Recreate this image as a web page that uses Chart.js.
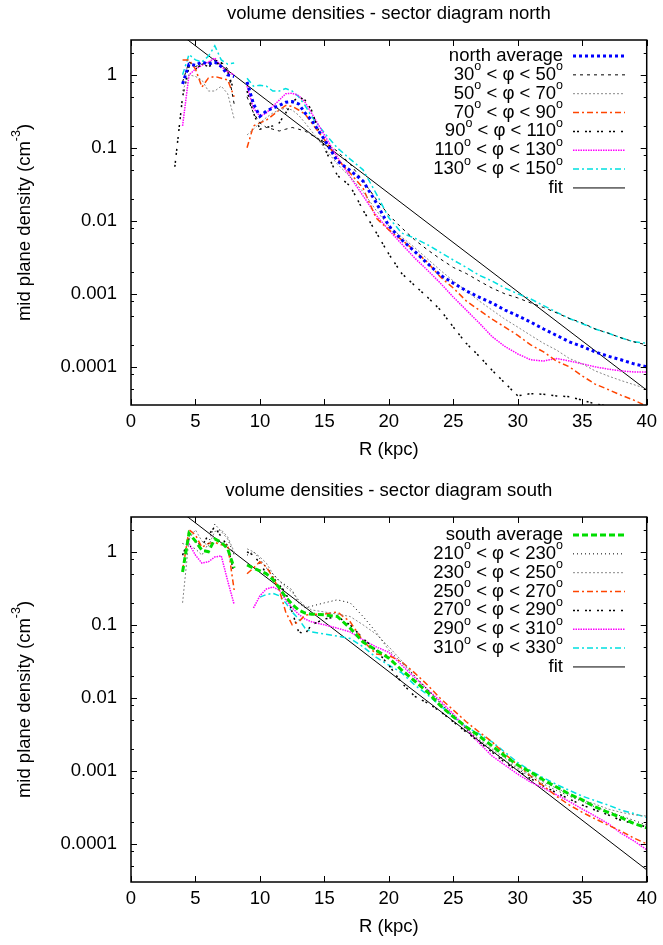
<!DOCTYPE html>
<html>
<head>
<meta charset="utf-8">
<title>volume densities - sector diagrams</title>
<script src="https://cdn.jsdelivr.net/npm/chart.js@4.4.1/dist/chart.umd.min.js"></script>
<style>
  body { margin: 0; background: #fff; }
  canvas { display: block; }
</style>
</head>
<body>
<canvas id="north" width="663" height="477"></canvas>
<canvas id="south" width="663" height="468"></canvas>
<script>
// galactocentric radius (kpc), shared by all sector profiles; 8.5 is the gap
var radius = [3.4, 4, 4.5, 5, 5.5, 6, 6.5, 7, 7.5, 8,
  8.5,
  9, 9.5, 10, 10.5, 11, 11.5, 12, 12.5, 13, 13.5, 14,
  15, 16, 17, 18, 19, 20, 21, 22, 23, 24, 25, 26, 27, 28, 29, 30, 31, 32, 33, 34, 35, 36, 37, 38, 39, 40];

// north sectors (cm^-3)
var northAverage = [null, 0.75, 1.4, 1.35, 1.5, 1.4, 1.5, 1.3, 1.0, 0.95,
  null,
  0.8, 0.4, 0.27, 0.32, 0.35, 0.38, 0.42, 0.43, 0.4, 0.3, 0.24,
  0.13, 0.066, 0.049, 0.035, 0.018, 0.0085, 0.0055, 0.0038, 0.0026, 0.0018, 0.0014, 0.0011, 0.0009, 0.00075, 0.0006, 0.0005, 0.00041, 0.00033, 0.00027, 0.00022, 0.00019, 0.00016, 0.00014, 0.000125, 0.00011, 0.0001];
var north30_50 = [null, 0.8, 1.5, 1.3, 1.4, 1.45, 1.6, 1.5, 1.2, 0.4,
  null,
  0.5, 0.3, 0.22, 0.19, 0.18, 0.17, 0.18, 0.19, 0.18, 0.17, 0.15,
  0.12, 0.09, 0.06, 0.035, 0.02, 0.012, 0.008, 0.0055, 0.004, 0.003, 0.0023, 0.0019, 0.0015, 0.0012, 0.001, 0.00088, 0.00075, 0.00065, 0.00055, 0.00046, 0.0004, 0.00033, 0.00029, 0.00025, 0.00022, 0.0002];
var north50_70 = [null, 0.6, 1.0, 0.95, 0.85, 0.6, 0.6, 0.7, 0.55, 0.25,
  null,
  0.15, 0.18, 0.22, 0.26, 0.3, 0.33, 0.35, 0.33, 0.28, 0.22, 0.17,
  0.1, 0.06, 0.04, 0.025, 0.014, 0.0085, 0.006, 0.0043, 0.003, 0.0021, 0.0015, 0.0011, 0.0008, 0.0006, 0.00045, 0.00035, 0.00027, 0.00021, 0.00017, 0.00013, 0.00011, 0.000088, 0.000075, 0.000065, 0.000057, 0.00005];
var north70_90 = [null, 1.6, 1.6, 1.2, 0.68, 0.9, 0.95, 0.9, 0.85, 0.5,
  null,
  0.1, 0.2, 0.22, 0.24, 0.28, 0.33, 0.38, 0.37, 0.33, 0.29, 0.22,
  0.13, 0.07, 0.045, 0.028, 0.011, 0.0075, 0.0055, 0.0039, 0.0027, 0.0017, 0.0012, 0.0008, 0.0006, 0.00045, 0.00035, 0.00027, 0.0002, 0.00016, 0.00012, 0.0001, 0.000075, 0.000058, 0.000049, 0.000041, 0.000035, 0.000029];
var north90_110 = [0.055, 0.5, 1.3, 1.2, 1.4, 1.3, 1.4, 1.45, 1.1, 0.6,
  null,
  0.6, 0.3, 0.18, 0.19, 0.2, 0.22, 0.3, 0.42, 0.5, 0.45, 0.33,
  0.1, 0.042, 0.03, 0.014, 0.007, 0.0035, 0.0019, 0.0013, 0.0009, 0.0006, 0.00035, 0.00021, 0.00014, 0.00009, 0.00006, 0.00004, 0.000043, 0.000042, 0.00004, 0.000039, 0.000035, 0.000031, 0.000029, 0.000026, 0.000024, 0.000022];
var north110_130 = [null, 0.2, 1.0, 1.2, 1.35, 1.5, 1.7, 1.3, 1.1, 1.0,
  null,
  0.7, 0.35, 0.27, 0.3, 0.37, 0.45, 0.55, 0.56, 0.52, 0.42, 0.3,
  0.15, 0.075, 0.04, 0.022, 0.012, 0.0075, 0.0048, 0.0031, 0.0021, 0.0014, 0.0009, 0.0006, 0.0004, 0.00026, 0.00019, 0.00015, 0.000125, 0.00012, 0.00013, 0.00012, 0.00011, 0.0001, 0.000093, 0.000088, 0.000085, 0.000085];
var north130_150 = [null, 1.0, 1.9, 1.6, 1.5, 1.8, 2.5, 1.6, 1.4, 1.45,
  null,
  0.9, 0.7, 0.72, 0.7, 0.6, 0.6, 0.65, 0.6, 0.5, 0.38, 0.27,
  0.16, 0.1, 0.07, 0.05, 0.024, 0.011, 0.0068, 0.0058, 0.0047, 0.0037, 0.0029, 0.0023, 0.0018, 0.0015, 0.0012, 0.001, 0.00085, 0.00069, 0.00056, 0.00046, 0.00039, 0.00033, 0.00029, 0.00025, 0.00022, 0.00021];

// south sectors (cm^-3)
var southAverage = [null, 0.53, 1.8, 1.4, 1.05, 1.0, 1.5, 1.35, 1.1, 0.6,
  null,
  0.66, 0.6, 0.55, 0.5, 0.42, 0.32, 0.24, 0.19, 0.16, 0.145, 0.14,
  0.137, 0.13, 0.09, 0.058, 0.045, 0.035, 0.024, 0.017, 0.012, 0.0078, 0.0055, 0.004, 0.003, 0.0022, 0.0016, 0.0012, 0.00096, 0.00075, 0.0006, 0.00048, 0.0004, 0.00032, 0.00027, 0.00023, 0.00019, 0.000166];
var south210_230 = [null, 1.3, 1.2, 1.1, 0.9, 1.3, 2.4, 1.9, 1.5, 0.9,
  null,
  0.9, 1.0, 0.8, 0.6, 0.5, 0.4, 0.35, 0.3, 0.2, 0.17, 0.18,
  0.2, 0.22, 0.2, 0.13, 0.08, 0.045, 0.03, 0.02, 0.013, 0.0085, 0.0055, 0.0037, 0.0026, 0.0019, 0.0014, 0.00105, 0.00083, 0.00066, 0.00054, 0.00045, 0.00038, 0.00032, 0.00028, 0.00024, 0.00021, 0.00018];
var south230_250 = [null, 0.2, 1.5, 2.0, 1.4, 1.2, 1.9, 2.0, 1.6, 1.0,
  null,
  1.1, 1.0, 0.85, 0.7, 0.5, 0.4, 0.33, 0.28, 0.22, 0.18, 0.16,
  0.15, 0.14, 0.13, 0.1, 0.075, 0.05, 0.032, 0.02, 0.013, 0.0085, 0.0056, 0.0038, 0.0027, 0.002, 0.0015, 0.0011, 0.00088, 0.0007, 0.00058, 0.00048, 0.0004, 0.00035, 0.0003, 0.00027, 0.00025, 0.00024];
var south250_270 = [null, 0.55, 2.0, 1.7, 1.15, 1.3, 1.35, 1.25, 1.25, 0.3,
  null,
  0.5, 0.6, 0.73, 0.62, 0.45, 0.3, 0.15, 0.1, 0.11, 0.135, 0.14,
  0.14, 0.15, 0.11, 0.06, 0.04, 0.038, 0.031, 0.022, 0.015, 0.0098, 0.0068, 0.0047, 0.0034, 0.0025, 0.0017, 0.0012, 0.00085, 0.00062, 0.00045, 0.00034, 0.00027, 0.00022, 0.00018, 0.00015, 0.00012, 0.0001];
var south270_290 = [null, 0.9, 1.5, 1.4, 1.2, 1.7, 2.2, 1.6, 1.2, 0.5,
  null,
  1.0, 0.9, 0.7, 0.5, 0.45, 0.35, 0.28, 0.15, 0.08, 0.075, 0.1,
  0.12, 0.13, 0.1, 0.065, 0.045, 0.028, 0.016, 0.0105, 0.0085, 0.0065, 0.0047, 0.0034, 0.0025, 0.0018, 0.0013, 0.001, 0.00078, 0.00062, 0.0005, 0.00041, 0.00034, 0.00029, 0.00025, 0.00021, 0.00019, 0.00017];
var south290_310 = [null, null, 1.3, 0.9, 0.7, 0.73, 0.85, 0.88, 0.4, 0.19,
  null,
  null, 0.17, 0.25, 0.31, 0.33, 0.3, 0.22, 0.17, 0.14, 0.12, 0.11,
  0.1, 0.09, 0.08, 0.062, 0.05, 0.042, 0.028, 0.019, 0.013, 0.009, 0.006, 0.0038, 0.0024, 0.0016, 0.0012, 0.0009, 0.0007, 0.00058, 0.00047, 0.00038, 0.0003, 0.00024, 0.00019, 0.00014, 0.00011, 0.000083];
var south310_330 = [null, null, null, null, null, null, null, null, null, null,
  null,
  null, null, 0.24, 0.26, 0.27, 0.25, 0.2, 0.15, 0.12, 0.09, 0.08,
  0.075, 0.07, 0.065, 0.05, 0.036, 0.028, 0.022, 0.015, 0.011, 0.0078, 0.0055, 0.004, 0.0032, 0.0025, 0.0018, 0.0013, 0.001, 0.0008, 0.00065, 0.00054, 0.00045, 0.00039, 0.00034, 0.00029, 0.00026, 0.00023];

// exponential fits, end points
var fitRadius = [0, 40];
var northFit = [11.8, 0.000048];
var southFit = [11.9, 0.000044];

var xTickValues = [0, 5, 10, 15, 20, 25, 30, 35, 40];
var yTickValues = [0.00005, 0.00008, 0.0001, 0.0002, 0.0005, 0.0008, 0.001, 0.002, 0.005, 0.008,
  0.01, 0.02, 0.05, 0.08, 0.1, 0.2, 0.5, 0.8, 1, 2];
var yTickLabels = ['', '', '0.0001', '', '', '', '0.001', '', '', '',
  '0.01', '', '', '', '0.1', '', '', '', '1', ''];

Chart.defaults.font.family = '"Liberation Sans", Arial, Helvetica, sans-serif';
Chart.defaults.font.size = 18.5;
Chart.defaults.color = '#000';

var mainFont = '18.5px "Liberation Sans", Arial, sans-serif';
var supFont = '12.5px "Liberation Sans", Arial, sans-serif';

// text with ^{...} superscripts, like gnuplot enhanced text
function drawRich(ctx, str, x, y, align) {
  var parts = str.split(/\^\{([^}]*)\}/).map(function (t, i) { return { t: t, sup: i % 2 === 1 }; });
  var w = 0;
  parts.forEach(function (p) {
    ctx.font = p.sup ? supFont : mainFont;
    p.w = ctx.measureText(p.t).width;
    w += p.w;
  });
  var cx = align === 'right' ? x - w : (align === 'center' ? x - w / 2 : x);
  ctx.textAlign = 'left';
  ctx.textBaseline = 'middle';
  parts.forEach(function (p) {
    ctx.font = p.sup ? supFont : mainFont;
    ctx.fillText(p.t, cx, p.sup ? y - 8 : y);
    cx += p.w;
  });
}

const gnuplotLook = {
  id: 'gnuplotLook',
  afterDatasetsDraw: (chart, args, opts) => {
    const {ctx, chartArea: a} = chart;
    const x = chart.scales.x, y = chart.scales.y;
    ctx.save();
    ctx.strokeStyle = '#000';
    ctx.fillStyle = '#000';
    ctx.setLineDash([]);
    ctx.lineWidth = 1;
    ctx.beginPath();
    xTickValues.forEach(function (v) {
      var px = Math.round(x.getPixelForValue(v)) + 0.5;
      ctx.moveTo(px, a.bottom); ctx.lineTo(px, a.bottom - 6);
      ctx.moveTo(px, a.top); ctx.lineTo(px, a.top + 6);
    });
    yTickValues.forEach(function (v, i) {
      var len = yTickLabels[i] ? 6 : 3;
      var py = Math.round(y.getPixelForValue(v)) + 0.5;
      ctx.moveTo(a.left, py); ctx.lineTo(a.left + len, py);
      ctx.moveTo(a.right, py); ctx.lineTo(a.right - len, py);
    });
    ctx.stroke();
    ctx.lineWidth = 1.5;
    ctx.strokeRect(a.left, a.top, a.right - a.left, a.bottom - a.top);

    // key, top right
    chart.data.datasets.forEach(function (ds, i) {
      var ry = opts.keyTop + i * 18.85;
      drawRich(ctx, ds.label, 563, ry, 'right');
      ctx.save();
      ctx.strokeStyle = ds.borderColor;
      ctx.lineWidth = ds.borderWidth;
      ctx.setLineDash(ds.borderDash || []);
      ctx.beginPath();
      ctx.moveTo(573, ry);
      ctx.lineTo(625, ry);
      ctx.stroke();
      ctx.restore();
    });

    drawRich(ctx, opts.title, (a.left + a.right) / 2, 14, 'center');
    drawRich(ctx, 'R (kpc)', (a.left + a.right) / 2, a.bottom + 45, 'center');
    ctx.translate(25, (a.top + a.bottom) / 2);
    ctx.rotate(-Math.PI / 2);
    drawRich(ctx, 'mid plane density (cm^{-3})', 0, 0, 'center');
    ctx.restore();
  }
};

function series(label, values, color, width, dash) {
  return {
    label: label,
    data: radius.map(function (r, i) { return { x: r, y: values[i] }; }),
    borderColor: color,
    borderWidth: width,
    borderDash: dash,
    pointRadius: 0,
    tension: 0,
    fill: false,
    spanGaps: false
  };
}

function fitLine(values) {
  return {
    label: 'fit',
    data: fitRadius.map(function (r, i) { return { x: r, y: values[i] }; }),
    borderColor: '#000',
    borderWidth: 1,
    borderDash: [],
    pointRadius: 0,
    tension: 0,
    fill: false
  };
}

function makeChart(id, datasets, title, keyTop, bottomPad) {
  return new Chart(id, {
    type: 'line',
    plugins: [gnuplotLook],
    data: { datasets: datasets },
    options: {
      responsive: false,
      animation: false,
      events: [],
      layout: { padding: { left: 0, right: 15, top: 40, bottom: bottomPad } },
      plugins: {
        legend: { display: false },
        tooltip: { enabled: false },
        gnuplotLook: { title: title, keyTop: keyTop }
      },
      scales: {
        x: {
          type: 'linear',
          min: 0,
          max: 40,
          grid: { display: false, drawTicks: false },
          border: { display: false },
          ticks: { stepSize: 5, padding: 6, maxRotation: 0, autoSkip: false },
          afterFit: function (s) { s.height = 30; }
        },
        y: {
          type: 'logarithmic',
          min: 0.00003,
          max: 3,
          grid: { display: false, drawTicks: false },
          border: { display: false },
          afterBuildTicks: function (s) {
            s.ticks = yTickValues.map(function (v) { return { value: v }; });
          },
          ticks: {
            autoSkip: false,
            padding: 14,
            callback: function (v, i) { return yTickLabels[i]; }
          },
          afterFit: function (s) { s.width = 131; }
        }
      }
    }
  });
}

var dotDash = [6, 3, 2, 3];
var pairDots = [2, 2, 2, 6];

makeChart('north', [
  series('north average', northAverage, '#0000ff', 3, [3, 3]),
  series('30^{o} < \u03c6 < 50^{o}', north30_50, '#000000', 1, [3, 4]),
  series('50^{o} < \u03c6 < 70^{o}', north50_70, '#888888', 1, [2, 2]),
  series('70^{o} < \u03c6 < 90^{o}', north70_90, '#ff4500', 1.5, dotDash),
  series('90^{o} < \u03c6 < 110^{o}', north90_110, '#000000', 1.5, pairDots),
  series('110^{o} < \u03c6 < 130^{o}', north110_130, '#ff00ff', 1.5, [1.5, 1]),
  series('130^{o} < \u03c6 < 150^{o}', north130_150, '#00e0e0', 1.5, dotDash),
  fitLine(northFit)
], 'volume densities - sector diagram north', 56, 42);

makeChart('south', [
  series('south average', southAverage, '#00dd00', 3, [6, 3]),
  series('210^{o} < \u03c6 < 230^{o}', south210_230, '#000000', 1, [1, 3]),
  series('230^{o} < \u03c6 < 250^{o}', south230_250, '#888888', 1, [2, 2]),
  series('250^{o} < \u03c6 < 270^{o}', south250_270, '#ff4500', 1.5, dotDash),
  series('270^{o} < \u03c6 < 290^{o}', south270_290, '#000000', 1.5, pairDots),
  series('290^{o} < \u03c6 < 310^{o}', south290_310, '#ff00ff', 1.5, [1.5, 1]),
  series('310^{o} < \u03c6 < 330^{o}', south310_330, '#00e0e0', 1.5, dotDash),
  fitLine(southFit)
], 'volume densities - sector diagram south', 58, 33);
</script>
</body>
</html>
